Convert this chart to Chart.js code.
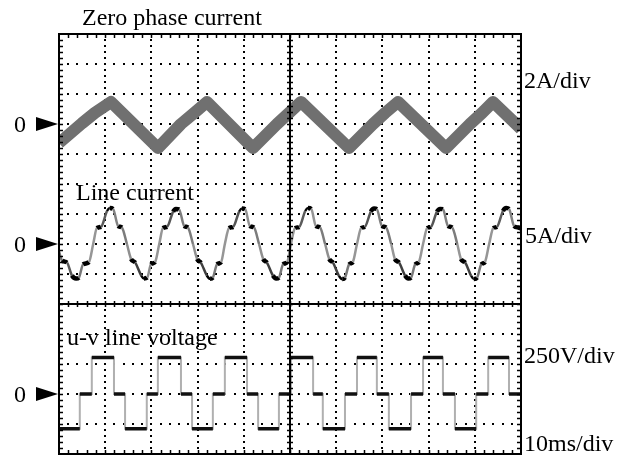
<!DOCTYPE html>
<html>
<head>
<meta charset="utf-8">
<script src="https://cdn.jsdelivr.net/npm/chart.js@4.4.0/dist/chart.umd.min.js"></script>
<style>
  body { margin: 0; background: #fff; }
  canvas { display: block; }
</style>
</head>
<body>
<canvas id="scope" width="624" height="459"></canvas>
<script>
// graticule: 10 x 10ms divisions, 14 vertical divisions
var timeTicks = [0, 10, 20, 30, 40, 50, 60, 70, 80, 90, 100];
var divTicks = [0, 1, 2, 3, 4, 5, 6, 7, 8, 9, 10, 11, 12, 13, 14];

// zero phase current (A) vs time (ms)
var zeroT = [0, 4.98, 7.79, 11.26, 21.43, 26.4, 29.22, 32.03, 41.99, 47.19, 49.78, 52.38, 62.77, 67.97, 70.56, 73.38, 83.77, 88.96, 91.56, 93.94, 100];
var zeroA = [-1.27, 0.05, 0.75, 1.47, -1.6, 0, 0.73, 1.47, -1.6, 0, 0.73, 1.47, -1.6, 0, 0.73, 1.47, -1.6, 0, 0.73, 1.47, -0.33];

// line current (A) vs time (ms)
var lineT = [0, 0.65, 1.73, 2.8, 3.7, 4.3, 5.2, 6.5,
  7.4, 8.2, 9.1, 10.4, 11.0, 11.7, 12.8, 13.6, 14.7, 15.6, 16.5, 17.8, 18.4, 19.1, 19.9, 20.8,
  21.7, 22.5, 23.4, 24.7, 25.3, 26.0, 27.1, 27.9, 29.0, 29.9, 30.7, 32.0, 32.7, 33.3, 34.2, 35.1,
  35.9, 36.8, 37.7, 39.0, 39.6, 40.3, 41.3, 42.2, 43.3, 44.2, 45.0, 46.3, 47.0, 47.6, 48.5, 49.4,
  50.2, 51.1, 52.0, 53.3, 53.9, 54.6, 55.6, 56.5, 57.6, 58.5, 59.3, 60.6, 61.3, 61.9, 62.8, 63.6,
  64.5, 65.4, 66.2, 67.5, 68.2, 68.8, 69.9, 70.8, 71.9, 72.7, 73.6, 74.9, 75.6, 76.2, 77.1, 77.9,
  78.8, 79.7, 80.5, 81.8, 82.5, 83.1, 84.2, 85.1, 86.2, 87.0, 87.9, 89.2, 89.8, 90.5, 91.4, 92.2,
  93.1, 94.0, 94.8, 96.1, 96.8, 97.4, 98.5, 99.4, 100];
var lineA = [-1.25, -2.75, -3.1, -5.25, -5.75, -5.6, -3.4, -3.0,
  0, 2.65, 2.85, 5.5, 6.0, 5.85, 3.0, 2.75, 0, -2.5, -3.1, -5.25, -5.75, -5.6, -3.4, -3.0,
  0, 2.65, 2.85, 5.4, 5.85, 5.75, 3.0, 2.75, 0, -2.5, -3.1, -5.25, -5.8, -5.6, -3.4, -3.0,
  0, 2.65, 2.85, 5.4, 5.9, 5.8, 3.0, 2.75, 0, -2.5, -3.1, -5.25, -5.75, -5.6, -3.4, -3.0,
  0, 2.65, 2.85, 5.5, 6.0, 5.85, 3.0, 2.75, 0, -2.5, -3.1, -5.3, -5.85, -5.6, -3.4, -3.0,
  0, 2.65, 2.85, 5.4, 5.9, 5.8, 3.0, 2.75, 0, -2.5, -3.1, -5.25, -5.75, -5.6, -3.4, -3.0,
  0, 2.65, 2.85, 5.4, 5.85, 5.8, 3.0, 2.75, 0, -2.5, -3.1, -5.3, -5.85, -5.6, -3.4, -3.0,
  0, 2.65, 2.85, 5.5, 6.0, 5.85, 3.0, 2.75, 2.6];

// u-v line voltage (V): level held from each time until the next
var voltT = [0, 4.5, 7.1, 11.9, 14.3, 19.0, 21.4, 26.4, 28.8, 33.3, 35.9, 40.7, 43.1, 47.6, 50.2, 55.0, 57.1, 61.9, 64.5, 68.8, 71.4, 76.2, 78.8, 83.1, 85.7, 90.3, 92.9, 97.4, 100];
var voltV = [-290, 0, 305, 0, -290, 0, 305, 0, -290, 0, 305, 0, -290, 0, 305, 0, -290, 0, 305, 0, -290, 0, 305, 0, -290, 0, 305, 0, 0];

var labelFont = '24px "Liberation Serif", "Times New Roman", serif';

function pairs(xs, ys){
    return xs.map(function(v, i){ return {x: v, y: ys[i]}; });
}

var plateaus = [];
for (var i = 0; i < voltT.length - 1; i++) {
    plateaus.push({x: voltT[i], y: voltV[i]});
    plateaus.push({x: voltT[i+1], y: voltV[i]});
    plateaus.push({x: voltT[i+1], y: null});
}

function slopeOf(c){
    var dx = Math.abs(c.p1.x - c.p0.x) || 0.01;
    return Math.abs(c.p1.y - c.p0.y) / dx;
}

var graticule = {
    id: 'graticule',
    beforeDatasetsDraw: function(chart){
        var ctx = chart.ctx, x = chart.scales.x, y = chart.scales.yGrid;
        ctx.save();
        ctx.fillStyle = '#000';
        timeTicks.forEach(function(t){
            if (t === 0 || t === 50 || t === 100) return;
            var px = Math.round(x.getPixelForValue(t));
            for (var k = 1; k < 14 * 5; k++) {
                ctx.fillRect(px - 1, Math.round(y.getPixelForValue(k / 5)) - 1, 2, 2);
            }
        });
        divTicks.forEach(function(d){
            if (d === 0 || d === 5 || d === 14) return;
            var py = Math.round(y.getPixelForValue(d));
            for (var k = 1; k < 10 * 5; k++) {
                ctx.fillRect(Math.round(x.getPixelForValue(k * 2)) - 1, py - 1, 2, 2);
            }
        });
        ctx.restore();
    },
    afterDatasetsDraw: function(chart){
        var ctx = chart.ctx, a = chart.chartArea, x = chart.scales.x, y = chart.scales.yGrid;
        var cx = Math.round(x.getPixelForValue(50)), cy = Math.round(y.getPixelForValue(5));
        ctx.save();
        ctx.strokeStyle = '#000';
        ctx.lineWidth = 2;
        ctx.strokeRect(a.left, a.top, a.right - a.left, a.bottom - a.top);
        ctx.beginPath();
        ctx.moveTo(cx, a.top); ctx.lineTo(cx, a.bottom);
        ctx.moveTo(a.left, cy); ctx.lineTo(a.right, cy);
        ctx.stroke();
        ctx.lineWidth = 1.5;
        ctx.beginPath();
        for (var k = 1; k < 14 * 5; k++) {
            var py = Math.round(y.getPixelForValue(k / 5)) + 0.5;
            ctx.moveTo(a.left, py); ctx.lineTo(a.left + 4, py);
            ctx.moveTo(a.right - 4, py); ctx.lineTo(a.right, py);
            ctx.moveTo(cx - 3, py); ctx.lineTo(cx + 3, py);
        }
        for (var j = 1; j < 10 * 5; j++) {
            var px = Math.round(x.getPixelForValue(j * 2)) + 0.5;
            ctx.moveTo(px, a.top); ctx.lineTo(px, a.top + 4);
            ctx.moveTo(px, a.bottom - 4); ctx.lineTo(px, a.bottom);
            ctx.moveTo(px, cy - 3); ctx.lineTo(px, cy + 3);
        }
        ctx.stroke();
        ctx.restore();
    },
    afterDraw: function(chart){
        var ctx = chart.ctx, a = chart.chartArea;
        ctx.save();
        ctx.fillStyle = '#000';
        ctx.font = labelFont;
        ctx.textBaseline = 'alphabetic';
        ctx.textAlign = 'left';
        ctx.fillText('Zero phase current', 82, 25);
        ctx.fillText('Line current', 76, 200);
        ctx.fillText('u-v line voltage', 67, 345);
        ctx.fillText('2A/div', 524, 88);
        ctx.fillText('5A/div', 525, 243);
        ctx.fillText('250V/div', 524, 363);
        ctx.fillText('10ms/div', 524, 451);
        ['yZero', 'yLine', 'yVolt'].forEach(function(id){
            var py = chart.scales[id].getPixelForValue(0);
            ctx.textAlign = 'center';
            ctx.fillText('0', 20, py + 8);
            ctx.beginPath();
            ctx.moveTo(36, py - 7);
            ctx.lineTo(a.left - 1, py);
            ctx.lineTo(36, py + 7);
            ctx.closePath();
            ctx.fill();
        });
        ctx.restore();
    }
};

new Chart(document.getElementById('scope'), {
    type: 'line',
    data: {
        datasets: [
            {
                label: 'Zero phase current',
                data: pairs(zeroT, zeroA),
                yAxisID: 'yZero',
                borderColor: '#707070',
                borderWidth: 12,
                borderJoinStyle: 'round',
                pointRadius: 0,
                clip: 0
            },
            {
                label: 'Line current',
                data: pairs(lineT, lineA),
                yAxisID: 'yLine',
                borderColor: '#000',
                borderWidth: 3,
                cubicInterpolationMode: 'monotone',
                pointRadius: 0,
                clip: 0,
                segment: {
                    borderColor: function(c){
                        var g = Math.max(0, Math.min(150, Math.round((slopeOf(c) - 1) * 55)));
                        return 'rgb(' + g + ',' + g + ',' + g + ')';
                    },
                    borderWidth: function(c){ return slopeOf(c) < 1 ? 4.5 : 2.5; }
                }
            },
            {
                label: 'u-v line voltage',
                data: plateaus,
                yAxisID: 'yVolt',
                spanGaps: false,
                borderColor: '#111',
                borderWidth: 3.5,
                pointRadius: 0,
                clip: 0
            },
            {
                label: 'u-v line voltage edges',
                data: pairs(voltT, voltV),
                yAxisID: 'yVolt',
                stepped: 'before',
                borderColor: '#b0b0b0',
                borderWidth: 2,
                pointRadius: 0,
                clip: 0
            }
        ]
    },
    options: {
        responsive: false,
        animation: false,
        devicePixelRatio: 1,
        layout: {padding: {left: 59, right: 103, top: 34, bottom: 5}},
        plugins: {legend: {display: false}, tooltip: {enabled: false}},
        scales: {
            x: {type: 'linear', min: 0, max: 100, display: false},
            yGrid: {type: 'linear', min: 0, max: 14, display: false},
            yZero: {type: 'linear', min: -22, max: 6, display: false},
            yLine: {type: 'linear', min: -35, max: 35, display: false},
            yVolt: {type: 'linear', min: -500, max: 3000, display: false}
        }
    },
    plugins: [graticule]
});
</script>
</body>
</html>
